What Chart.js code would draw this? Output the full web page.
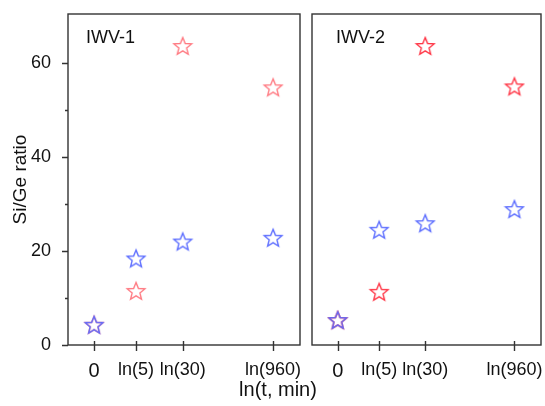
<!DOCTYPE html>
<html>
<head>
<meta charset="utf-8">
<script src="https://cdn.jsdelivr.net/npm/chart.js@4"></script>
<style>
  body { margin: 0; background: #fff; width: 545px; height: 406px; overflow: hidden; position: relative; font-family: "Liberation Sans", Arial, sans-serif; }
  #p1 { position: absolute; left: 0; top: 0; width: 311px; height: 406px; }
  #p2 { position: absolute; left: 301px; top: 0; width: 251px; height: 406px; }
  #xtitle { position: absolute; left: 0; width: 556px; top: 378px; text-align: center; font-size: 20px; color: #111; }
</style>
</head>
<body>
<div id="p1"><canvas id="c1"></canvas></div>
<div id="p2"><canvas id="c2"></canvas></div>
<div id="xtitle">ln(t, min)</div>
<script>
// sampling times (min), plotted as ln(t)
var times = [1, 5, 30, 960];
var tickLabels = ['0', 'ln(5)', 'ln(30)', 'ln(960)'];
var yTicks = [0, 20, 40, 60];
var yMinor = [10, 30, 50];

// IWV-1
var iwv1Red = [4.3, 11.5, 63.6, 54.8];
var iwv1Blue = [4.3, 18.4, 22.0, 22.8];
// IWV-2
var iwv2Red = [5.3, 11.3, 63.6, 55.0];
var iwv2Blue = [5.3, 24.5, 25.9, 28.9];

var FONT = '"Liberation Sans", Arial, sans-serif';

function starImg(color) {
  var c = document.createElement('canvas');
  c.width = 22; c.height = 22;
  var g = c.getContext('2d');
  g.beginPath();
  for (var i = 0; i < 10; i++) {
    var r = i % 2 === 0 ? 9.3 : 4.1;
    var a = -Math.PI / 2 + i * Math.PI / 5;
    var x = 11 + r * Math.cos(a), y = 11.8 + r * Math.sin(a);
    if (i === 0) g.moveTo(x, y); else g.lineTo(x, y);
  }
  g.closePath();
  g.strokeStyle = color;
  g.lineWidth = 1.4;
  g.stroke();
  return c;
}

function pts(vals) {
  return vals.map(function (v, i) { return { x: Math.log(times[i]), y: vals[i] }; });
}

// frame, tick marks and panel label
var boxPlugin = {
  id: 'box',
  afterDraw: function (chart) {
    var a = chart.chartArea, g = chart.ctx, o = chart.options.plugins.box;
    g.save();
    g.strokeStyle = '#333';
    g.lineWidth = 1.4;
    g.strokeRect(a.left, a.top, a.right - a.left, a.bottom - a.top);
    var xs = chart.scales.x;
    g.beginPath();
    times.forEach(function (t) {
      var px = Math.round(xs.getPixelForValue(Math.log(t))) + 0.5;
      g.moveTo(px, a.bottom - 4);
      g.lineTo(px, a.bottom + 6);
    });
    if (o.yTicks) {
      var ys = chart.scales.y;
      yTicks.forEach(function (v) {
        var py = Math.round(ys.getPixelForValue(v)) + 0.5;
        g.moveTo(a.left - 6, py); g.lineTo(a.left, py);
      });
      yMinor.forEach(function (v) {
        var py = Math.round(ys.getPixelForValue(v)) + 0.5;
        g.moveTo(a.left - 3, py); g.lineTo(a.left, py);
      });
    }
    g.stroke();
    g.fillStyle = '#111';
    g.font = '18px ' + FONT;
    g.textBaseline = 'middle';
    g.fillText(o.label, a.left + o.labelX, a.top + 24);
    g.restore();
  }
};

function makeChart(id, red, blue, redColor, label, leftPanel) {
  return new Chart(document.getElementById(id), {
    type: 'scatter',
    data: {
      datasets: [
        { data: pts(blue), pointStyle: starImg('#5b6cff'), pointRadius: 10 },
        { data: pts(red), pointStyle: starImg(redColor), pointRadius: 10 }
      ]
    },
    options: {
      responsive: true,
      maintainAspectRatio: false,
      animation: false,
      layout: { padding: leftPanel ? { top: 14, right: 5, left: 0, bottom: 0 } : { top: 14, left: 7, right: 4, bottom: 0 } },
      plugins: {
        legend: { display: false },
        tooltip: { enabled: false },
        box: { label: label, yTicks: leftPanel, labelX: leftPanel ? 18 : 24 }
      },
      scales: {
        x: {
          type: 'linear', min: -1, max: 7.9,
          grid: { display: false },
          border: { display: false },
          afterBuildTicks: function (s) { s.ticks = times.map(function (t) { return { value: Math.log(t) }; }); },
          afterFit: function (s) { s.height = 61; },
          ticks: {
            color: '#111',
            padding: 6,
            maxRotation: 0,
            autoSkip: false,
            font: function (c) { return { size: c.index === 0 ? 20 : 18, family: FONT }; },
            callback: function (v, i) { return tickLabels[i]; }
          }
        },
        y: {
          display: leftPanel,
          min: 0, max: 70.4,
          grid: { display: false },
          border: { display: false },
          afterBuildTicks: function (s) { s.ticks = yTicks.map(function (v) { return { value: v }; }); },
          afterFit: function (s) { if (leftPanel) s.width = 68; s.paddingTop = 0; s.paddingBottom = 0; },
          ticks: { color: '#111', padding: 9, font: { size: 18, family: FONT } },
          title: { display: true, text: 'Si/Ge ratio', color: '#111', padding: { top: 9, bottom: 0 }, font: { size: 19, family: FONT } }
        }
      }
    },
    plugins: [boxPlugin]
  });
}

makeChart('c1', iwv1Red, iwv1Blue, '#ff7a82', 'IWV-1', true);
makeChart('c2', iwv2Red, iwv2Blue, '#ff3545', 'IWV-2', false);
</script>
</body>
</html>
